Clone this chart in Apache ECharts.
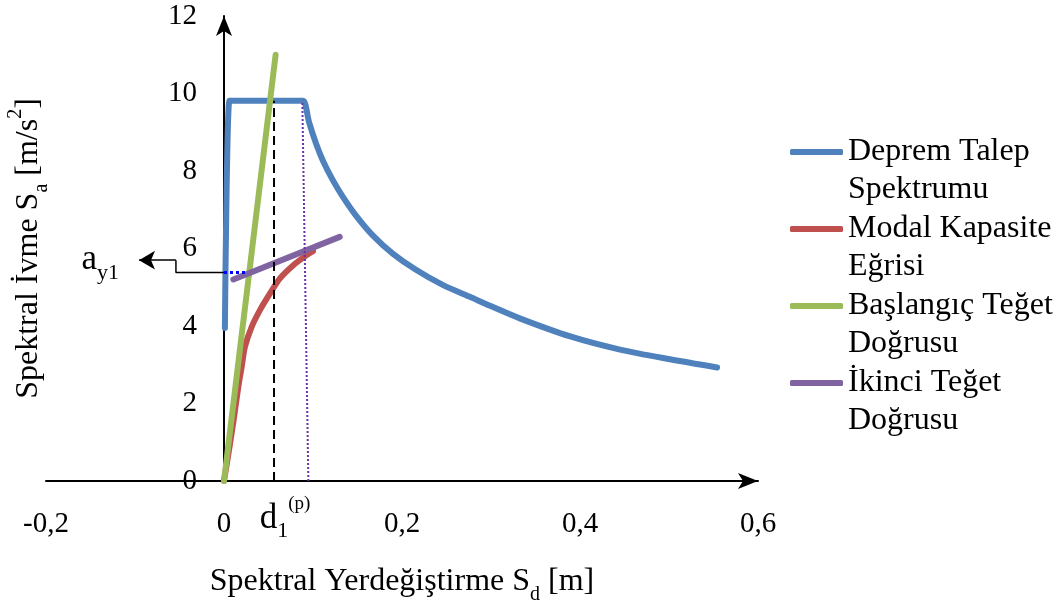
<!DOCTYPE html>
<html>
<head>
<meta charset="utf-8">
<script src="https://cdn.jsdelivr.net/npm/echarts@6/dist/echarts.min.js"></script>
<style>html,body{margin:0;padding:0;background:#fff}#c{width:1064px;height:605px}</style>
</head>
<body>
<div id="c"></div>
<script>
// ---- data ----
var xTicks = [-0.2, 0, 0.2, 0.4, 0.6];
var yTicks = [0, 2, 4, 6, 8, 10, 12];
var demandSpectrum = [[0.001,3.95],[0.006,9.81],[0.010,9.81],[0.085,9.81],[0.0891,9.81],[0.0958,9.24],[0.1034,8.71],[0.1109,8.28],[0.1221,7.77],[0.1334,7.34],[0.1483,6.85],[0.1671,6.34],[0.1896,5.87],[0.2157,5.45],[0.2457,5.06],[0.2756,4.76],[0.299,4.52],[0.333,4.19],[0.389,3.73],[0.445,3.39],[0.501,3.14],[0.554,2.93]];
var capacityCurve = [[0,0],[0.006,0.85],[0.011,1.6],[0.0161,2.43],[0.0199,2.95],[0.0236,3.47],[0.0311,3.98],[0.0404,4.41],[0.0517,4.84],[0.0629,5.23],[0.0779,5.57],[0.0929,5.83],[0.100,5.93]];
var initialTangent = [[0,0],[0.058,11.0]];
var secondTangent = [[0.0105,5.2],[0.130,6.30]];
var ay1Dotted = [[0,5.38],[0.027,5.38]];
var d1pLine = [[0.0562,0],[0.0562,9.81]];
var performanceLine = [[0.0948,0],[0.088,9.81]];
var ay1Pointer = [[0,5.38],[-0.054,5.38],[-0.054,5.70]];
var ay1ArrowEnd = [-0.0955,5.70];
var seriesNames = ['Deprem Talep Spektrumu','Modal Kapasite Eğrisi','Başlangıç Teğet Doğrusu','İkinci Teğet Doğrusu'];
var legendLabels = ['Deprem Talep\nSpektrumu','Modal Kapasite\nEğrisi','Başlangıç Teğet\nDoğrusu','İkinci Teğet\nDoğrusu'];
var colors = ['#4F81BD','#C0504D','#9BBB59','#8064A2'];

var FONT = 'Liberation Serif';
var FS = 29;   // tick labels
var FT = 32;   // titles, legend
function fmt(v){ return (Math.round(v*10)/10).toString().replace('.', ','); }

var chart = echarts.init(document.getElementById('c'), null, {renderer:'canvas'});
var legendMap = {};
// leading empty line so the first text line sits level with the legend line
seriesNames.forEach(function(n,i){ legendMap[n] = '\n' + legendLabels[i]; });

var subRich = {
  sub: {fontFamily: FONT, fontSize: 20, color:'#000', verticalAlign:'bottom', lineHeight: 46},
  sup: {fontFamily: FONT, fontSize: 20, color:'#000', verticalAlign:'top', lineHeight: 44},
  b: {fontFamily: FONT, fontSize: FT, color:'#000', lineHeight: 36}
};
var annRich = {
  b: {fontFamily: FONT, fontSize: 35, color:'#000', lineHeight: 36},
  sub: {fontFamily: FONT, fontSize: 22, color:'#000', verticalAlign:'bottom', lineHeight: 48},
  sup: {fontFamily: FONT, fontSize: 19, color:'#000', verticalAlign:'top', lineHeight: 38}
};

function mainLine(name, data, color, extra){
  var s = {
    name: name, type:'line', data: data, symbol:'none', smooth: false,
    lineStyle: {color: color, width: 6, cap:'round', join:'miter'},
    itemStyle: {color: color}, silent: true, animation: false
  };
  if (extra) for (var k in extra) s[k] = extra[k];
  return s;
}

var option = {
  animation: false,
  backgroundColor: '#fff',
  grid: {left: 46, right: 306, top: 16, bottom: 124, containLabel: false, outerBoundsMode: 'none'},
  xAxis: {
    type:'value', min: xTicks[0], max: xTicks[xTicks.length-1], interval: 0.2,
    axisLine: {onZero: true, lineStyle:{color:'#000', width:2}, symbol:['none','arrow'], symbolSize:[12,20]},
    axisTick: {show:false}, splitLine: {show:false},
    axisLabel: {fontFamily: FONT, fontSize: FS, color:'#000', margin: 29, formatter: fmt},
    name: '{b|Spektral Yerdeğiştirme S}{sub|d}{b| [m]}',
    nameLocation:'middle', nameGap: 78,
    nameTextStyle: {rich: subRich, fontFamily: FONT, fontSize: FT, color:'#000'}
  },
  yAxis: {
    type:'value', min: yTicks[0], max: yTicks[yTicks.length-1], interval: 2,
    offset: -178,
    axisLine: {onZero: false, lineStyle:{color:'#000', width:2}, symbol:['none','arrow'], symbolSize:[12,20]},
    axisTick: {show:false}, splitLine: {show:false},
    axisLabel: {fontFamily: FONT, fontSize: FS, color:'#000', margin: 27, formatter: fmt},
    name: '{b|Spektral İvme S}{sub|a}{b| [m/s}{sup|2}{b|]}',
    nameLocation:'middle', nameGap: 172,
    nameTextStyle: {rich: subRich, fontFamily: FONT, fontSize: FT, color:'#000'}
  },
  legend: {
    orient:'vertical', left: 785, top: 90,
    data: seriesNames,
    icon: 'roundRect',
    itemWidth: 53, itemHeight: 6, itemGap: -37,
    formatter: function(n){ return legendMap[n]; },
    textStyle: {fontFamily: FONT, fontSize: FT, color:'#000', lineHeight: 38},
    selectedMode: false
  },
  series: [
    mainLine(seriesNames[0], demandSpectrum, colors[0], {smooth: 0.3, z: 2}),
    mainLine(seriesNames[1], capacityCurve, colors[1], {smooth: 0.3, z: 3}),
    mainLine(seriesNames[2], initialTangent, colors[2], {z: 4}),
    mainLine(seriesNames[3], secondTangent, colors[3], {z: 5}),
    {name:'ay1dot', type:'line', data: ay1Dotted, symbol:'none', silent:true, z:6,
     lineStyle:{color:'#0000FF', width:3, type:[3,3]}},
    {name:'d1p', type:'line', data: d1pLine, symbol:'none', silent:true, z:6,
     lineStyle:{color:'#000', width:2, type:[9,5]}},
    {name:'perf', type:'line', data: performanceLine, symbol:'none', silent:true, z:6,
     lineStyle:{color:'#7030A0', width:2, type:[2,2]}},
    {name:'ay1ptr', type:'line', data: ay1Pointer, symbol:'none', silent:true, z:6,
     lineStyle:{color:'#000', width:1.5},
     markLine: {silent:true, symbol:['none','arrow'], symbolSize:[14,16], animation:false,
       lineStyle:{color:'#000', width:1.5, type:'solid'}, label:{show:false},
       data: [[{coord: ay1Pointer[ay1Pointer.length-1]}, {coord: ay1ArrowEnd}]]}},
    {name:'labels', type:'scatter', symbolSize: 1, silent:true, z:7,
     itemStyle:{color:'rgba(0,0,0,0)'},
     data: [
       {value:[-0.104, 5.70], label:{show:true, position:'left', distance: 12, color:'#000', opacity:1,
          formatter:'{b|a}{sub|y1}', rich: annRich}},
       {value:[0.0685, 0], label:{show:true, position:'bottom', distance: 13, color:'#000', opacity:1,
          formatter:'{b|d}{sub|1}{sup|(p)}', rich: annRich}}
     ]}
  ]
};
chart.setOption(option);
</script>
</body>
</html>
